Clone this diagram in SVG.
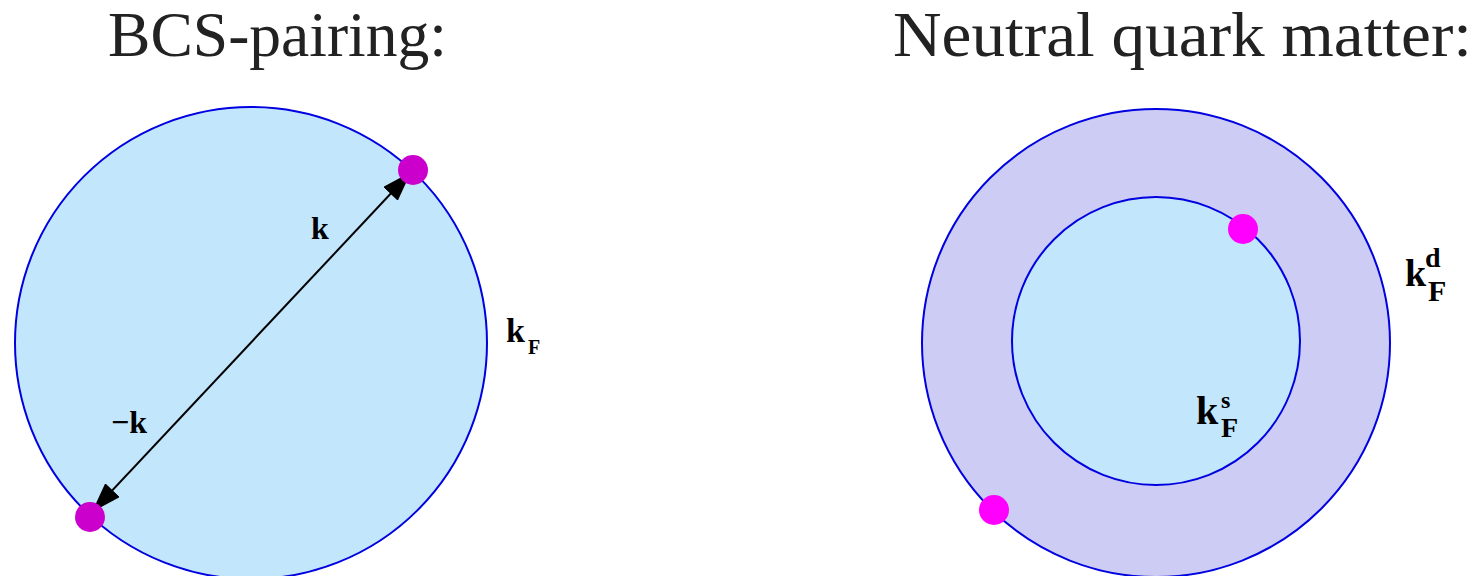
<svg xmlns="http://www.w3.org/2000/svg" width="1482" height="576" viewBox="0 0 1482 576">
<style>
.title{font-family:"Liberation Serif","DejaVu Serif",serif;font-size:64px;fill:#222}
.lbl{font-family:"Liberation Serif","DejaVu Serif",serif;font-weight:bold;fill:#000}
.circ{stroke:#0000e0;stroke-width:2}
</style>
<defs>
<marker id="ah" viewBox="0 0 30 20" refX="30" refY="10" markerWidth="30" markerHeight="20" markerUnits="userSpaceOnUse" orient="auto-start-reverse">
<path d="M0,0 L30,10 L0,20 Z" fill="#000"/>
</marker>
</defs>
<text class="title" x="108" y="56" textLength="339" lengthAdjust="spacingAndGlyphs">BCS-pairing:</text>
<text class="title" x="893" y="56" textLength="579" lengthAdjust="spacingAndGlyphs">Neutral quark matter:</text>
<g id="fermi-sphere">
<circle class="circ" cx="251" cy="343" r="236" fill="#c2e6fc"/>
</g>
<g id="outer-sphere">
<circle class="circ" cx="1156" cy="343" r="234" fill="#ccccf4"/>
</g>
<g id="inner-sphere">
<circle class="circ" cx="1156" cy="341" r="144" fill="#c2e6fc"/>
</g>
<g id="connectors">
<line x1="92" y1="512" x2="411" y2="172" stroke="#000" stroke-width="2" marker-start="url(#ah)" marker-end="url(#ah)"/>
</g>
<g id="particle-k"><circle cx="413" cy="170" r="15" fill="#cc00cc"/></g>
<g id="particle-minus-k"><circle cx="90" cy="517" r="15" fill="#cc00cc"/></g>
<g id="particle-s"><circle cx="1243" cy="229" r="15" fill="#ff00ff"/></g>
<g id="particle-d"><circle cx="994" cy="510" r="15" fill="#ff00ff"/></g>
<g id="label-k"><text class="lbl" x="311" y="239" font-size="32">k</text></g>
<g id="label-minus-k"><text class="lbl" x="111" y="433" font-size="32">−k</text></g>
<g id="label-kF"><text class="lbl" x="506" y="342" font-size="34">k</text><text class="lbl" x="528" y="354" font-size="20">F</text></g>
<g id="label-kFd"><text class="lbl" x="1405" y="286" font-size="38">k</text><text class="lbl" x="1425" y="267" font-size="28">d</text><text class="lbl" x="1428" y="301" font-size="30">F</text></g>
<g id="label-kFs"><text class="lbl" x="1196" y="424" font-size="40">k</text><text class="lbl" x="1221" y="408" font-size="24">s</text><text class="lbl" x="1221" y="437" font-size="28">F</text></g>
</svg>
